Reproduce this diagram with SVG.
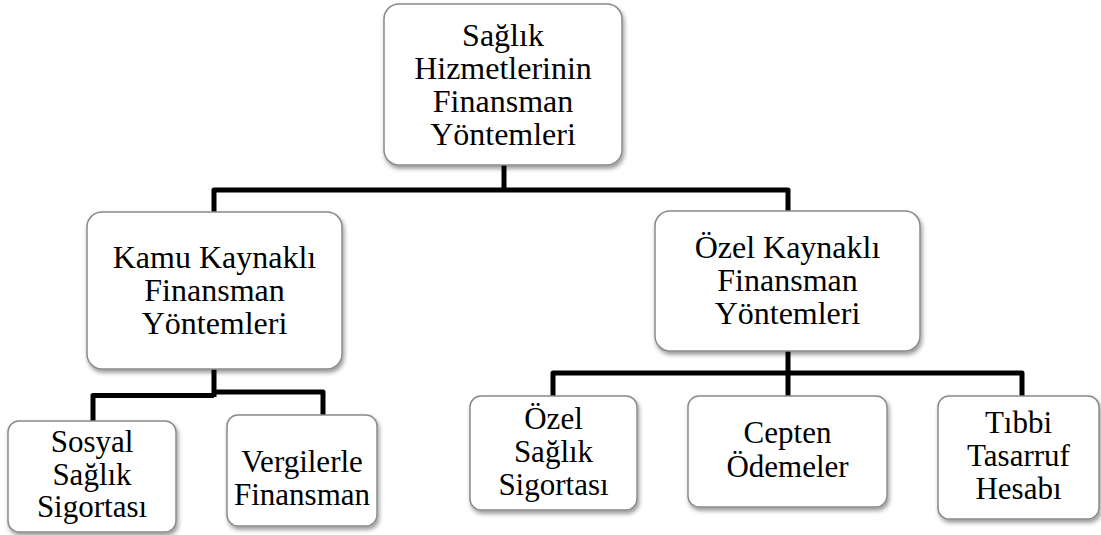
<svg xmlns="http://www.w3.org/2000/svg" width="1101" height="535" viewBox="0 0 1101 535">
<defs>
<filter id="sh" x="-10%" y="-10%" width="125%" height="130%">
<feDropShadow dx="1.5" dy="3" stdDeviation="2" flood-color="#000" flood-opacity="0.4"/>
</filter>
<style>
.box{fill:#fff;stroke:#8a8a8a;stroke-width:1.5;filter:url(#sh)}
.t{font-size:32px;fill:#000;text-anchor:middle}
.s{font-size:31px}
.c{fill:none;stroke:#000;stroke-width:5;stroke-linejoin:round}
</style>
</defs>
<rect width="1101" height="535" fill="#fff"/>
<g id="connectors">
<path class="c" d="M214,212 V190 H788 V211 M504,165 V190"/>
<path class="c" d="M93,421 V395.5 H214 M214,369 V397 M214,392 H323 V415"/>
<path class="c" d="M553,396 V373 H1022 V396 M788,351 V396"/>
</g>
<g font-family="Liberation Serif, serif">
<g id="n-root">
<rect class="box" x="384" y="4" width="238" height="161" rx="15"/>
<text class="t" x="503" y="46">Sağlık</text>
<text class="t" x="503" y="79">Hizmetlerinin</text>
<text class="t" x="503" y="112">Finansman</text>
<text class="t" x="503" y="145">Yöntemleri</text>
</g>
<g id="n-kamu">
<rect class="box" x="87" y="212" width="255" height="157" rx="15"/>
<text class="t" x="214.5" y="268">Kamu Kaynaklı</text>
<text class="t" x="214.5" y="301">Finansman</text>
<text class="t" x="214.5" y="334">Yöntemleri</text>
</g>
<g id="n-ozel">
<rect class="box" x="655" y="211" width="265" height="140" rx="15"/>
<text class="t" x="787.5" y="258">Özel Kaynaklı</text>
<text class="t" x="787.5" y="291">Finansman</text>
<text class="t" x="787.5" y="324">Yöntemleri</text>
</g>
<g id="n-sosyal">
<rect class="box" x="8" y="421" width="168" height="111" rx="11"/>
<text class="t s" x="92" y="452">Sosyal</text>
<text class="t s" x="92" y="485">Sağlık</text>
<text class="t s" x="92" y="517">Sigortası</text>
</g>
<g id="n-vergi">
<rect class="box" x="227" y="415" width="150" height="111" rx="11"/>
<text class="t s" x="302" y="472">Vergilerle</text>
<text class="t s" x="302" y="505">Finansman</text>
</g>
<g id="n-ozelsaglik">
<rect class="box" x="470" y="396" width="167" height="114" rx="11"/>
<text class="t s" x="553.5" y="429">Özel</text>
<text class="t s" x="553.5" y="462">Sağlık</text>
<text class="t s" x="553.5" y="495">Sigortası</text>
</g>
<g id="n-cepten">
<rect class="box" x="688" y="396" width="199" height="111" rx="11"/>
<text class="t s" x="787.5" y="443">Cepten</text>
<text class="t s" x="787.5" y="477">Ödemeler</text>
</g>
<g id="n-tibbi">
<rect class="box" x="938" y="396" width="161" height="123" rx="11"/>
<text class="t s" x="1018.5" y="433">Tıbbi</text>
<text class="t s" x="1018.5" y="466">Tasarruf</text>
<text class="t s" x="1018.5" y="499">Hesabı</text>
</g>
</g>
</svg>
